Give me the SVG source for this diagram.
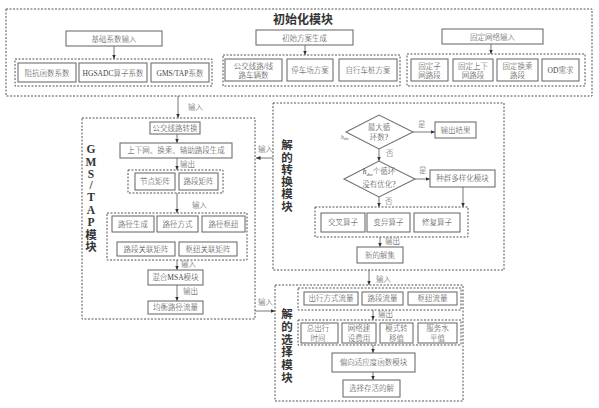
<svg xmlns="http://www.w3.org/2000/svg" width="599" height="408" viewBox="0 0 599 408">
<style>
.b{fill:#fff;stroke:#707070;stroke-width:1.1}
.d{fill:none;stroke:#555;stroke-width:1;stroke-dasharray:2 1.5}
.c{fill:none;stroke:#555;stroke-width:0.8;marker-end:url(#ah)}
.t{font-family:"Liberation Serif","Noto Sans CJK SC",serif;font-size:7.5px;font-weight:300;fill:#444;text-anchor:middle}
.l{font-family:"Liberation Serif","Noto Sans CJK SC",serif;font-size:7.5px;font-weight:300;fill:#444}
.v{font-family:"Liberation Serif","Noto Sans CJK SC",serif;font-size:11.5px;font-weight:bold;fill:#333;text-anchor:middle}
</style>
<defs>
<marker id="ah" markerWidth="5" markerHeight="5" refX="4.5" refY="2.5" orient="auto" markerUnits="userSpaceOnUse">
<path d="M0,0.5 L4.5,2.5 L0,4.5 Z" fill="#333"/>
</marker>
</defs>

<g id="connectors">
<line class="c" x1="114" y1="46" x2="114" y2="59"/>
<line class="c" x1="305" y1="45" x2="305" y2="55"/>
<line class="c" x1="491" y1="44" x2="491" y2="54"/>
<line class="c" x1="178" y1="96" x2="178" y2="118"/>
<text class="l" x="188" y="110">输入</text>
<line class="c" x1="177" y1="134" x2="177" y2="143"/>
<line class="c" x1="177" y1="158" x2="177" y2="170"/>
<text class="l" x="180" y="167">输出</text>
<line class="c" x1="177" y1="193" x2="177" y2="213"/>
<text class="l" x="192" y="208">输入</text>
<line class="c" x1="177" y1="260" x2="177" y2="270"/>
<text class="l" x="181" y="267">输入</text>
<line class="c" x1="177" y1="285" x2="177" y2="301"/>
<text class="l" x="183" y="294">输出</text>
<line class="c" x1="273" y1="158" x2="256" y2="158"/>
<text class="l" x="258" y="152">输入</text>
<line class="c" x1="255" y1="311" x2="275" y2="311"/>
<text class="l" x="258" y="305">输入</text>
<line class="c" x1="413" y1="132" x2="435" y2="132"/>
<text class="l" x="418" y="127">是</text>
<line class="c" x1="379" y1="149" x2="379" y2="161"/>
<text class="l" x="386" y="156">否</text>
<line class="c" x1="415" y1="179" x2="430" y2="179"/>
<text class="l" x="419" y="173">是</text>
<line class="c" x1="463" y1="187" x2="463" y2="207"/>
<line class="c" x1="379" y1="197" x2="379" y2="207"/>
<text class="l" x="385" y="204">否</text>
<line class="c" x1="380" y1="237" x2="380" y2="247"/>
<text class="l" x="385" y="244">输出</text>
<line class="c" x1="369" y1="270" x2="369" y2="285"/>
<text class="l" x="376" y="282">输入</text>
<line class="c" x1="373" y1="310" x2="373" y2="320"/>
<text class="l" x="378" y="317">输出</text>
<line class="c" x1="373" y1="345" x2="373" y2="353"/>
<line class="c" x1="373" y1="372" x2="373" y2="380"/>
</g>

<g id="init-module">
<rect class="d" x="6" y="9" width="586" height="87"/>
<text x="303" y="24" font-family="Liberation Serif,Noto Sans CJK SC,serif" font-size="12" font-weight="bold" fill="#333" text-anchor="middle">初始化模块</text>
</g>

<g id="base-coef">
<rect class="b" x="66" y="31" width="96" height="15"/>
<text class="t" x="114" y="41.5">基础系数输入</text>
<rect class="d" x="15" y="59" width="197" height="27"/>
<rect class="b" x="18" y="63" width="58" height="19"/>
<text class="t" x="47" y="75.5">阻抗函数系数</text>
<rect class="b" x="79" y="63" width="68" height="19"/>
<text class="t" x="113" y="75.5">HGSADC算子系数</text>
<rect class="b" x="151" y="63" width="58" height="19"/>
<text class="t" x="180" y="75.5">GMS/TAP系数</text>
</g>

<g id="init-plan">
<rect class="b" x="256" y="30" width="97" height="15"/>
<text class="t" x="304.5" y="40.5">初始方案生成</text>
<rect class="d" x="223" y="55" width="177" height="31"/>
<rect class="b" x="225" y="59" width="57" height="22"/>
<text class="t" x="253.5" y="68.5">公交线路/线</text>
<text class="t" x="253.5" y="78">路车辆数</text>
<rect class="b" x="287" y="59" width="46" height="22"/>
<text class="t" x="310" y="72.5">停车场方案</text>
<rect class="b" x="339" y="59" width="58" height="22"/>
<text class="t" x="368" y="72.5">自行车桩方案</text>
</g>

<g id="fixed-net">
<rect class="b" x="442" y="29" width="101" height="15"/>
<text class="t" x="492.5" y="39.5">固定网络输入</text>
<rect class="d" x="407" y="54" width="178" height="32"/>
<rect class="b" x="411" y="59" width="37" height="22"/>
<text class="t" x="429.5" y="68.5">固定子</text>
<text class="t" x="429.5" y="78">网路段</text>
<rect class="b" x="453" y="59" width="40" height="22"/>
<text class="t" x="473" y="68.5">固定上下</text>
<text class="t" x="473" y="78">网路段</text>
<rect class="b" x="497" y="59" width="41" height="22"/>
<text class="t" x="517.5" y="68.5">固定换乘</text>
<text class="t" x="517.5" y="78">路段</text>
<rect class="b" x="542" y="59" width="37" height="22"/>
<text class="t" x="560.5" y="72.5">OD需求</text>
</g>

<g id="gms-module">
<rect class="d" x="82" y="118" width="173" height="201"/>
<text class="v" x="91" y="153">G</text>
<text class="v" x="91" y="166">M</text>
<text class="v" x="91" y="178">S</text>
<text class="v" x="91" y="189">/</text>
<text class="v" x="91" y="201">T</text>
<text class="v" x="91" y="214">A</text>
<text class="v" x="91" y="226">P</text>
<text class="v" x="91" y="239">模</text>
<text class="v" x="91" y="251">块</text>
<rect class="b" x="150" y="122" width="50" height="12"/>
<text class="t" x="175" y="130.7">公交线路转换</text>
<rect class="b" x="120" y="143" width="112" height="15"/>
<text class="t" x="176" y="153.2">上下网、换乘、辅助路段生成</text>
<rect class="d" x="128" y="170" width="95" height="23"/>
<rect class="b" x="135" y="173" width="40" height="17"/>
<text class="t" x="155" y="184.3">节点矩阵</text>
<rect class="b" x="179" y="173" width="39" height="17"/>
<text class="t" x="198.5" y="184.3">路段矩阵</text>
<rect class="d" x="107" y="213" width="140" height="47"/>
<rect class="b" x="112" y="216" width="42" height="16"/>
<text class="t" x="133" y="226.8">路径生成</text>
<rect class="b" x="157" y="216" width="41" height="16"/>
<text class="t" x="177.5" y="226.8">路径方式</text>
<rect class="b" x="202" y="216" width="43" height="16"/>
<text class="t" x="223.5" y="226.8">路径枢纽</text>
<rect class="b" x="117" y="242" width="58" height="14"/>
<text class="t" x="146" y="251.8">路段关联矩阵</text>
<rect class="b" x="179" y="242" width="58" height="14"/>
<text class="t" x="208" y="251.8">枢纽关联矩阵</text>
<rect class="b" x="148" y="270" width="55" height="15"/>
<text class="t" x="175.5" y="280.3">混合MSA模块</text>
<rect class="b" x="148" y="301" width="55" height="13"/>
<text class="t" x="175.5" y="310.3">均衡路径流量</text>
</g>

<g id="transform-module">
<rect class="d" x="273" y="103" width="231" height="167"/>
<text class="v" x="287" y="149">解</text>
<text class="v" x="287" y="162">的</text>
<text class="v" x="287" y="174">转</text>
<text class="v" x="287" y="186">换</text>
<text class="v" x="287" y="198">模</text>
<text class="v" x="287" y="211">块</text>
<polygon class="b" points="346,132 379,115 413,132 379,149"/>
<text class="t" x="379" y="130">最大循</text>
<text class="t" x="379" y="139.5">环数?</text>
<text x="341" y="139" font-family="Liberation Serif,serif" font-size="5.5" font-style="italic" fill="#555">h<tspan font-size="4" dy="1">dm</tspan></text>
<rect class="b" x="435" y="122" width="41" height="16"/>
<text class="t" x="455.5" y="132.7">输出结果</text>
<polygon class="b" points="344,179 379,161 415,179 379,197"/>
<text class="t" x="379" y="174"><tspan font-style="italic">h</tspan><tspan font-size="5" font-style="italic" dy="1.5">dm</tspan><tspan dy="-1.5">个循环</tspan></text>
<text class="t" x="379" y="187">没有优化?</text>
<rect class="b" x="430" y="170" width="65" height="17"/>
<text class="t" x="462.5" y="181.2">种群多样化模块</text>
<rect class="d" x="315" y="207" width="153" height="30"/>
<rect class="b" x="321" y="213" width="44" height="19"/>
<text class="t" x="343" y="225.2">交叉算子</text>
<rect class="b" x="367" y="213" width="43" height="19"/>
<text class="t" x="388.5" y="225.2">变异算子</text>
<rect class="b" x="414" y="213" width="46" height="19"/>
<text class="t" x="437" y="225.2">修复算子</text>
<rect class="b" x="357" y="247" width="46" height="16"/>
<text class="t" x="380" y="257.7">新的解集</text>
</g>

<g id="select-module">
<rect class="d" x="275" y="285" width="188" height="116"/>
<text class="v" x="287" y="318">解</text>
<text class="v" x="287" y="331">的</text>
<text class="v" x="287" y="344">选</text>
<text class="v" x="287" y="356">择</text>
<text class="v" x="287" y="369">模</text>
<text class="v" x="287" y="382">块</text>
<rect class="d" x="298" y="288" width="163" height="22"/>
<rect class="b" x="304" y="292" width="54" height="13"/>
<text class="t" x="331" y="301.3">出行方式流量</text>
<rect class="b" x="362" y="292" width="41" height="13"/>
<text class="t" x="382.5" y="301.3">路段流量</text>
<rect class="b" x="408" y="292" width="49" height="13"/>
<text class="t" x="432.5" y="301.3">枢纽流量</text>
<rect class="d" x="298" y="320" width="163" height="25"/>
<rect class="b" x="301" y="323" width="37" height="20"/>
<text class="t" x="318" y="331">总出行</text>
<text class="t" x="318" y="340.5">时间</text>
<rect class="b" x="342" y="323" width="34" height="20"/>
<text class="t" x="359" y="331">网络建</text>
<text class="t" x="359" y="340.5">设费用</text>
<rect class="b" x="380" y="323" width="33" height="20"/>
<text class="t" x="396.5" y="331">模式转</text>
<text class="t" x="396.5" y="340.5">移值</text>
<rect class="b" x="418" y="323" width="39" height="20"/>
<text class="t" x="437.5" y="331">服务水</text>
<text class="t" x="437.5" y="340.5">平值</text>
<rect class="b" x="332" y="353" width="83" height="19"/>
<text class="t" x="373.5" y="365.2">偏向适应度函数模块</text>
<rect class="b" x="343" y="380" width="57" height="17"/>
<text class="t" x="371.5" y="391.3">选择存活的解</text>
</g>
</svg>
